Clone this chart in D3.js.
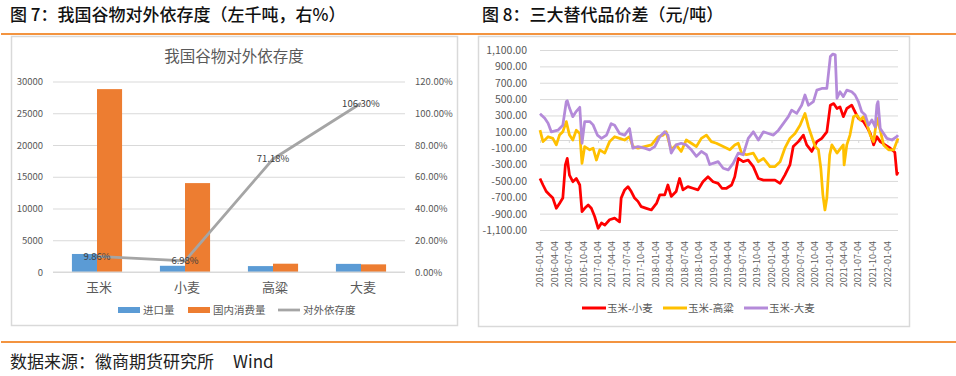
<!DOCTYPE html>
<html lang="zh">
<head>
<meta charset="UTF-8">
<title>我国谷物对外依存度 / 三大替代品价差</title>
<script src="https://d3js.org/d3.v7.min.js"></script>
<style>
  body { margin: 0; background: #fff; }
  svg text { font-family: "Noto Sans CJK SC", "Noto Sans", sans-serif; }
</style>
</head>
<body>
<svg id="chart" width="956" height="376"></svg>
<script>
// ---- 图7 数据（左：千吨，右：%）
const grains = ["玉米", "小麦", "高粱", "大麦"];
const importVol = [2840, 980, 930, 1280];
const domesticUse = [28800, 14000, 1307, 1204];
const dependRate = [0.0986, 0.0698, 0.7118, 1.063];
const leftTicks = [0, 5000, 10000, 15000, 20000, 25000, 30000];
const rightTicks = [0, 0.2, 0.4, 0.6, 0.8, 1.0, 1.2];

// ---- 图8 数据（元/吨）
const spreadTicks = [-1100, -900, -700, -500, -300, -100, 100, 300, 500, 700, 900, 1100];
const dateTicks = ["2016-01-04","2016-04-04","2016-07-04","2016-10-04","2017-01-04","2017-04-04","2017-07-04","2017-10-04",
  "2018-01-04","2018-04-04","2018-07-04","2018-10-04","2019-01-04","2019-04-04","2019-07-04","2019-10-04",
  "2020-01-04","2020-04-04","2020-07-04","2020-10-04","2021-01-04","2021-04-04","2021-07-04","2021-10-04","2022-01-04"];

const cornWheat = [["2016-01-04",-470],["2016-01-23",-550],["2016-02-13",-630],["2016-03-04",-670],["2016-03-25",-710],["2016-04-16",-835],["2016-05-06",-775],["2016-05-27",-710],["2016-06-12",-305],["2016-06-24",-225],["2016-07-08",-430],["2016-07-29",-510],["2016-08-20",-470],["2016-09-11",-550],["2016-09-25",-875],["2016-10-12",-835],["2016-11-03",-795],["2016-11-23",-835],["2016-12-14",-935],["2017-01-05",-1080],["2017-01-26",-1015],["2017-02-16",-1040],["2017-03-18",-975],["2017-04-19",-955],["2017-05-20",-1000],["2017-05-30",-710],["2017-06-21",-610],["2017-07-12",-570],["2017-08-02",-630],["2017-08-23",-710],["2017-09-13",-750],["2017-10-04",-815],["2017-11-05",-835],["2017-12-07",-855],["2018-01-08",-775],["2018-01-29",-670],["2018-03-01",-670],["2018-03-21",-550],["2018-04-11",-690],["2018-05-12",-630],["2018-06-03",-470],["2018-06-24",-610],["2018-07-25",-570],["2018-08-26",-590],["2018-09-27",-610],["2018-10-28",-510],["2018-11-29",-450],["2018-12-31",-510],["2019-02-01",-530],
  ["2019-02-25",-590],["2019-03-26",-590],["2019-04-27",-550],["2019-05-17",-450],["2019-06-08",-225],["2019-07-09",-265],["2019-08-10",-245],["2019-09-11",-325],["2019-10-13",-470],["2019-11-14",-490],["2019-12-15",-490],["2020-01-26",-490],["2020-02-27",-530],["2020-03-28",-430],["2020-04-29",-305],["2020-05-20",-80],["2020-06-21",-20],["2020-07-23",60],["2020-08-13",-60],["2020-09-14",-140],["2020-10-16",-20],["2020-11-16",20],["2020-12-18",100],["2021-01-09",425],["2021-01-30",445],["2021-02-20",385],["2021-03-11",405],["2021-04-01",285],["2021-04-23",385],["2021-05-24",425],["2021-06-14",345],["2021-07-05",265],["2021-08-06",225],["2021-08-27",160],["2021-09-18",80],["2021-10-09",-60],["2021-10-30",40],["2021-11-20",-20],["2021-12-21",-60],["2022-01-22",-100],["2022-02-20",-150],["2022-03-05",-420],["2022-03-12",-390]];

const cornSorghum = [["2016-01-04",120],["2016-01-23",-20],["2016-02-24",40],["2016-03-25",20],["2016-04-16",-60],["2016-05-06",60],["2016-05-27",100],["2016-06-18",225],["2016-07-08",60],["2016-07-29",0],["2016-08-20",120],["2016-09-11",80],["2016-09-25",-285],["2016-10-12",-80],["2016-11-13",-120],["2016-12-04",-100],["2016-12-25",-245],["2017-01-15",-120],["2017-02-16",-160],["2017-03-18",-20],["2017-04-19",40],["2017-05-20",20],["2017-06-21",0],["2017-07-22",40],["2017-08-12",-80],["2017-09-13",-100],["2017-10-25",-80],["2017-12-07",-60],["2018-01-18",40],["2018-02-19",60],["2018-03-10",100],["2018-04-11",-120],["2018-05-12",-60],["2018-06-13",-140],["2018-07-15",0],["2018-08-16",-40],["2018-09-17",-80],["2018-10-18",20],["2018-11-19",60],["2018-12-20",-20],["2019-01-21",-40],
  ["2019-03-05",-80],["2019-04-16",-120],["2019-05-17",-60],["2019-06-08",-40],["2019-06-29",-160],["2019-07-30",-180],["2019-09-11",-160],["2019-10-13",-265],["2019-11-14",-225],["2019-12-25",-325],["2020-01-26",-325],["2020-02-27",-265],["2020-03-28",-100],["2020-04-29",20],["2020-05-31",80],["2020-07-02",180],["2020-08-02",325],["2020-08-24",160],["2020-09-14",40],["2020-10-05",-80],["2020-10-26",-120],["2020-11-10",-345],["2020-11-23",-670],["2020-12-06",-855],["2020-12-18",-710],["2021-01-05",-180],["2021-01-19",-60],["2021-02-20",-160],["2021-04-01",-60],["2021-04-06",-305],["2021-04-23",-60],["2021-05-13",60],["2021-06-04",285],["2021-06-25",305],["2021-07-16",245],["2021-08-06",285],["2021-08-27",200],["2021-09-18",60],["2021-10-09",-20],["2021-10-30",265],["2021-11-20",120],["2021-12-11",-60],["2022-01-12",-120],["2022-02-13",-120],["2022-03-12",20]];

const cornBarley = [["2016-01-04",320],["2016-02-03",265],["2016-02-24",205],["2016-03-15",100],["2016-04-26",120],["2016-05-27",180],["2016-06-18",470],["2016-06-24",480],["2016-07-08",390],["2016-07-29",285],["2016-08-20",350],["2016-09-11",400],["2016-09-25",-40],["2016-10-12",225],["2016-11-13",225],["2016-12-04",185],["2016-12-31",60],["2017-01-26",20],["2017-02-27",60],["2017-03-28",200],["2017-04-19",180],["2017-05-20",80],["2017-06-21",60],["2017-07-22",140],["2017-08-12",-100],["2017-09-13",-80],["2017-10-25",-100],["2017-11-26",-120],["2017-12-28",-80],["2018-01-29",40],["2018-03-01",100],["2018-03-21",60],["2018-04-11",-160],["2018-05-12",-60],["2018-06-13",-40],["2018-07-15",-60],["2018-08-16",-120],["2018-09-17",-200],["2018-10-18",-140],["2018-11-19",-180],["2018-12-10",-300],["2018-12-31",-285],["2019-02-01",-265],
  ["2019-03-05",-345],["2019-04-06",-365],["2019-05-07",-285],["2019-06-08",-160],["2019-07-09",-180],["2019-08-10",20],["2019-09-11",100],["2019-10-13",0],["2019-11-14",100],["2019-12-15",80],["2020-01-16",60],["2020-02-17",120],["2020-03-18",200],["2020-04-19",285],["2020-05-10",365],["2020-06-11",325],["2020-07-12",425],["2020-08-02",550],["2020-08-24",425],["2020-09-24",470],["2020-10-16",610],["2020-11-16",630],["2020-12-18",630],["2021-01-09",1020],["2021-01-25",1050],["2021-02-09",1040],["2021-02-20",510],["2021-03-11",590],["2021-04-01",530],["2021-04-23",610],["2021-05-24",590],["2021-06-14",550],["2021-07-05",470],["2021-07-26",345],["2021-08-17",305],["2021-09-07",180],["2021-09-28",245],["2021-10-19",160],["2021-10-30",430],["2021-11-06",470],["2021-11-20",140],["2021-12-11",80],["2022-01-01",20],["2022-02-02",0],["2022-03-04",40],["2022-03-12",60]];

const spreadSeries = [
  {name: "玉米-小麦", color: "#FF0000", data: cornWheat},
  {name: "玉米-高粱", color: "#FFC000", data: cornSorghum},
  {name: "玉米-大麦", color: "#B48AD9", data: cornBarley}
];

const svg = d3.select("#chart");
const orange = "#F39440";
const grid = "#D9D9D9";
const tickColor = "#595959";

// 页面标题与分隔线
svg.append("text").attr("x", 10).attr("y", 21).attr("font-size", 17).attr("font-weight", 500).attr("fill", "#111")
   .text("图 7：我国谷物对外依存度（左千吨，右%）");
svg.append("text").attr("x", 482).attr("y", 21).attr("font-size", 17).attr("font-weight", 500).attr("fill", "#111")
   .text("图 8：三大替代品价差（元/吨）");
svg.append("rect").attr("x", 1).attr("y", 33).attr("width", 955).attr("height", 2).attr("fill", orange);
svg.append("rect").attr("x", 1).attr("y", 341).attr("width", 955).attr("height", 2).attr("fill", orange);
svg.append("text").attr("x", 10).attr("y", 368).attr("font-size", 17).attr("fill", "#222")
   .style("white-space", "pre")
   .text("数据来源：徽商期货研究所     Wind");

// 面板边框
svg.append("rect").attr("x", 11.5).attr("y", 36.5).attr("width", 446).attr("height", 289)
   .attr("fill", "none").attr("stroke", grid).attr("stroke-width", 1.5);
svg.append("rect").attr("x", 478.5).attr("y", 36.5).attr("width", 431).attr("height", 290)
   .attr("fill", "none").attr("stroke", grid).attr("stroke-width", 1.5);

// ================= 图7 =================
{
  const left = 53, right = 405, top = 81.5, bottom = 272;
  const g = svg.append("g");

  g.append("text").attr("x", 234).attr("y", 62).attr("text-anchor", "middle")
   .attr("font-size", 15.5).attr("fill", "#595959").text("我国谷物对外依存度");

  const x = d3.scaleBand().domain(grains).range([left, right]);
  const sub = d3.scaleBand().domain(["import", "use"])
                .range([x.bandwidth() * 0.215, x.bandwidth() * 0.785]);
  const yL = d3.scaleLinear().domain([0, 30000]).range([bottom, top]);
  const yR = d3.scaleLinear().domain([0, 1.2]).range([bottom, top]);

  // 网格
  g.append("g").attr("transform", `translate(${left},0)`)
   .call(d3.axisLeft(yL).tickValues(leftTicks).tickSize(-(right - left)).tickFormat(""))
   .call(s => s.select(".domain").remove())
   .call(s => s.selectAll("line").attr("stroke", grid));

  // 左轴
  g.append("g").attr("transform", `translate(${left},0)`)
   .call(d3.axisLeft(yL).tickValues(leftTicks).tickSize(0).tickPadding(10).tickFormat(d3.format("d")))
   .call(s => s.select(".domain").remove())
   .call(s => s.selectAll("text").attr("font-size", 9.5).attr("fill", tickColor));

  // 右轴
  g.append("g").attr("transform", `translate(${right},0)`)
   .call(d3.axisRight(yR).tickValues(rightTicks).tickSize(0).tickPadding(10).tickFormat(d3.format(".2%")))
   .call(s => s.select(".domain").remove())
   .call(s => s.selectAll("text").attr("font-size", 9.5).attr("fill", tickColor));

  // 柱
  g.selectAll(".imp").data(grains).join("rect")
   .attr("x", (d) => x(d) + sub("import"))
   .attr("y", (d, i) => yL(importVol[i]))
   .attr("width", sub.bandwidth())
   .attr("height", (d, i) => bottom - yL(importVol[i]))
   .attr("fill", "#5B9BD5");
  g.selectAll(".use").data(grains).join("rect")
   .attr("x", (d) => x(d) + sub("use"))
   .attr("y", (d, i) => yL(domesticUse[i]))
   .attr("width", sub.bandwidth())
   .attr("height", (d, i) => bottom - yL(domesticUse[i]))
   .attr("fill", "#ED7D31");

  // 底部轴线与类别
  g.append("line").attr("x1", left).attr("x2", right).attr("y1", bottom).attr("y2", bottom)
   .attr("stroke", grid);
  g.selectAll(".cat").data(grains).join("text")
   .attr("x", (d) => x(d) + x.bandwidth() / 2 + 2).attr("y", 292)
   .attr("text-anchor", "middle").attr("font-size", 13).attr("fill", tickColor).text((d) => d);

  // 依存度折线
  const line = d3.line().x((d, i) => x(grains[i]) + x.bandwidth() / 2).y((d) => yR(d));
  g.append("path").datum(dependRate).attr("d", line)
   .attr("fill", "none").attr("stroke", "#A5A5A5").attr("stroke-width", 2.75)
   .attr("stroke-linejoin", "round");
  g.selectAll(".lbl").data(dependRate).join("text")
   .attr("x", (d, i) => x(grains[i]) + x.bandwidth() / 2)
   .attr("y", (d) => yR(d)).attr("dy", "0.35em")
   .attr("text-anchor", "middle").attr("font-size", 9.5).attr("fill", "#404040")
   .text((d) => d3.format(".2%")(d));

  // 图例
  const lg = g.append("g").attr("transform", "translate(0,310)");
  lg.append("rect").attr("x", 118).attr("y", -3).attr("width", 22).attr("height", 6).attr("fill", "#5B9BD5");
  lg.append("text").attr("x", 143).attr("dy", "0.35em").attr("font-size", 10.5).attr("fill", tickColor).text("进口量");
  lg.append("rect").attr("x", 188).attr("y", -3).attr("width", 22).attr("height", 6).attr("fill", "#ED7D31");
  lg.append("text").attr("x", 213).attr("dy", "0.35em").attr("font-size", 10.5).attr("fill", tickColor).text("国内消费量");
  lg.append("line").attr("x1", 278).attr("x2", 300).attr("stroke", "#A5A5A5").attr("stroke-width", 2.75);
  lg.append("text").attr("x", 303).attr("dy", "0.35em").attr("font-size", 10.5).attr("fill", tickColor).text("对外依存度");
}

// ================= 图8 =================
{
  const parse = d3.timeParse("%Y-%m-%d");
  const left = 540, right = 898, top = 50, bottom = 230;
  const g = svg.append("g");

  const x = d3.scaleTime().domain([parse("2016-01-04"), parse("2022-03-12")]).range([left, right]);
  const y = d3.scaleLinear().domain([-1100, 1100]).range([bottom, top]);
  const fmt = (v) => d3.format(",.2f")(v).replace("−", "-");

  g.append("g").attr("transform", `translate(${left},0)`)
   .call(d3.axisLeft(y).tickValues(spreadTicks).tickSize(-(right - left)).tickFormat(""))
   .call(s => s.select(".domain").remove())
   .call(s => s.selectAll("line").attr("stroke", grid).attr("stroke-width", 1));

  g.append("g").attr("transform", `translate(${left},0)`)
   .call(d3.axisLeft(y).tickValues(spreadTicks).tickSize(0).tickPadding(13).tickFormat(fmt))
   .call(s => s.select(".domain").remove())
   .call(s => s.selectAll("text").attr("font-size", 10.5).attr("fill", tickColor));

  // 零轴
  g.append("g").attr("transform", `translate(0,${y(0)})`)
   .call(d3.axisBottom(x).tickValues(dateTicks.filter((d, i) => i % 2 === 0).map(parse)).tickSize(3).tickFormat(""))
   .call(s => s.select(".domain").attr("stroke", grid))
   .call(s => s.selectAll("line").attr("stroke", grid));

  // 日期标签
  g.selectAll(".dt").data(dateTicks).join("text")
   .attr("transform", (d) => `translate(${x(parse(d))},241) rotate(-90)`)
   .attr("dy", "0.35em").attr("text-anchor", "end")
   .attr("font-size", 9).attr("fill", tickColor).text((d) => d);

  const line = d3.line().x((d) => x(parse(d[0]))).y((d) => y(d[1]));
  spreadSeries.forEach((s) => {
    g.append("path").datum(s.data).attr("d", line)
     .attr("fill", "none").attr("stroke", s.color).attr("stroke-width", 2.75)
     .attr("stroke-linejoin", "round");
  });

  const lg = g.append("g").attr("transform", "translate(0,308)");
  const lx = [582, 663, 744];
  spreadSeries.forEach((s, i) => {
    lg.append("line").attr("x1", lx[i]).attr("x2", lx[i] + 24)
      .attr("stroke", s.color).attr("stroke-width", 3);
    lg.append("text").attr("x", lx[i] + 25).attr("dy", "0.35em")
      .attr("font-size", 10.5).attr("fill", tickColor).text(s.name);
  });
}
</script>
</body>
</html>
